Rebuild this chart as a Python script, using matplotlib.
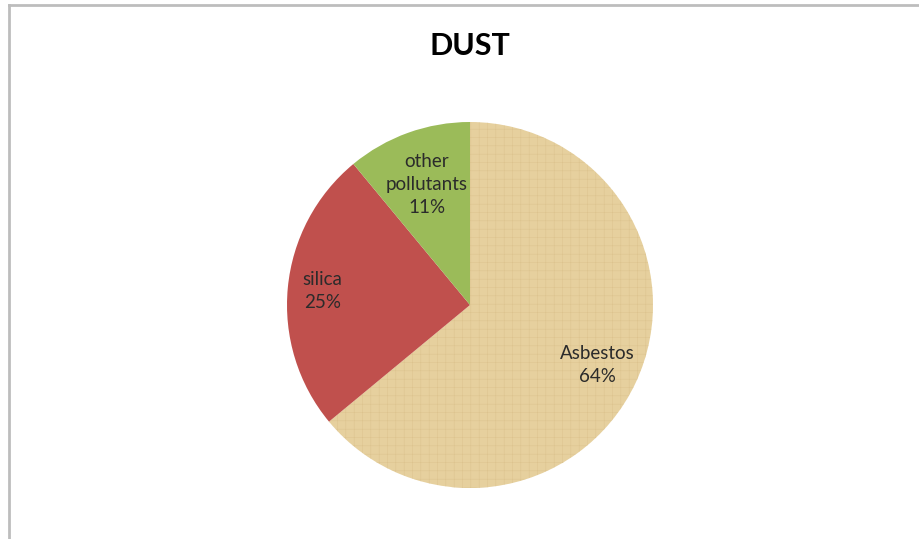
import numpy as np
import matplotlib.pyplot as plt
from matplotlib.lines import Line2D

# Data
labels = ["Asbestos", "silica", "other\npollutants"]
shares = [64, 25, 11]
colors = ["#E6D09E", "#C0504D", "#9BBB59"]
label_r = [0.77, 0.81, 0.70]  # where each label sits, as a fraction of the radius

plt.rcParams['font.family'] = ['Lato', 'DejaVu Sans']
plt.rcParams['hatch.linewidth'] = 0.35

fig = plt.figure(figsize=(9.2, 5.39), dpi=100)
ax = fig.add_axes([0, 0, 1, 1])

cx, cy, R = 470, 234, 183
wedges, _ = ax.pie(shares, colors=colors, startangle=90, counterclock=False,
                   center=(cx, cy), radius=R, frame=True,
                   wedgeprops=dict(linewidth=0))
ax.set_xlim(0, 920)
ax.set_ylim(0, 539)
ax.set_aspect('equal')
ax.axis('off')

# papyrus-ish texture on the asbestos slice
wedges[0].set_hatch('++')
wedges[0].set_edgecolor('#DCC38E')

for w, name, pct, r in zip(wedges, labels, shares, label_r):
    ang = np.deg2rad((w.theta1 + w.theta2) / 2)
    x = cx + r * R * np.cos(ang)
    y = cy + r * R * np.sin(ang)
    ax.text(x, y, f"{name}\n{pct}%", ha='center', va='center',
            fontsize=13.5, color='#2b2b2b', linespacing=1.4)

ax.text(470, 493, "DUST", ha='center', va='center', fontsize=22,
        fontweight='bold', color='black')

# chart frame (left and top edges visible)
ax.add_line(Line2D([9, 9], [0, 534], color='#BDBDBD', linewidth=2))
ax.add_line(Line2D([9, 920], [534, 534], color='#BDBDBD', linewidth=2))

fig.savefig("out.png", dpi=100)
